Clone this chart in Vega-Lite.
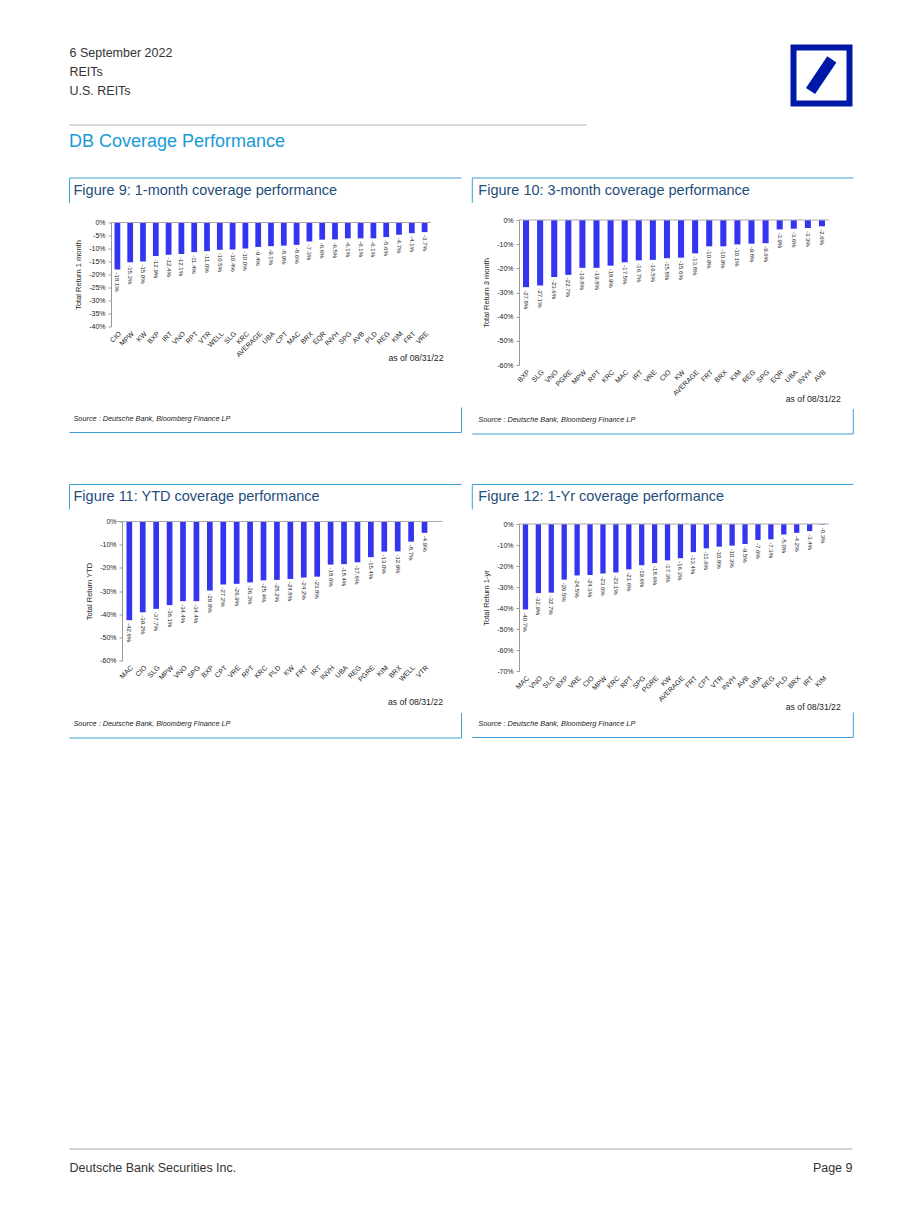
{
  "$schema": "https://vega.github.io/schema/vega-lite/v6.json",
  "background": "white",
  "autosize": {"type": "pad"},
  "padding": {"left": 68, "top": 35, "right": 0, "bottom": 0},
  "config": {
    "view": {"stroke": null},
    "font": "Liberation Sans",
    "axis": {"grid": false, "labelFont": "Liberation Sans", "titleFont": "Liberation Sans", "labelColor": "#222222", "titleColor": "#222222", "titleFontWeight": "normal"},
    "text": {"font": "Liberation Sans"},
    "title": {"font": "Liberation Sans", "fontWeight": "normal"}
  },
  "datasets": {
    "m1": [
      {"t": "CIO", "v": -18.1}, {"t": "MPW", "v": -15.3}, {"t": "KW", "v": -15.0}, {"t": "BXP", "v": -12.9}, {"t": "IRT", "v": -12.4},
      {"t": "VNO", "v": -12.1}, {"t": "RPT", "v": -11.4}, {"t": "VTR", "v": -11.0}, {"t": "WELL", "v": -10.5}, {"t": "SLG", "v": -10.4},
      {"t": "KRC", "v": -10.0}, {"t": "AVERAGE", "v": -9.4}, {"t": "UBA", "v": -9.1}, {"t": "CPT", "v": -8.9}, {"t": "MAC", "v": -8.6},
      {"t": "BRX", "v": -7.3}, {"t": "EQR", "v": -6.6}, {"t": "INVH", "v": -6.5}, {"t": "SPG", "v": -6.1}, {"t": "AVB", "v": -6.1},
      {"t": "PLD", "v": -6.1}, {"t": "REG", "v": -5.6}, {"t": "KIM", "v": -4.7}, {"t": "FRT", "v": -4.1}, {"t": "VRE", "v": -3.7}
    ],
    "m3": [
      {"t": "BXP", "v": -27.8}, {"t": "SLG", "v": -27.1}, {"t": "VNO", "v": -23.6}, {"t": "PGRE", "v": -22.7}, {"t": "MPW", "v": -19.8},
      {"t": "RPT", "v": -19.8}, {"t": "KRC", "v": -18.9}, {"t": "MAC", "v": -17.5}, {"t": "IRT", "v": -16.7}, {"t": "VRE", "v": -16.5},
      {"t": "CIO", "v": -15.8}, {"t": "KW", "v": -15.6}, {"t": "AVERAGE", "v": -13.8}, {"t": "FRT", "v": -10.9}, {"t": "BRX", "v": -10.9},
      {"t": "KIM", "v": -10.1}, {"t": "REG", "v": -9.8}, {"t": "SPG", "v": -9.6}, {"t": "EQR", "v": -3.9}, {"t": "UBA", "v": -3.6},
      {"t": "INVH", "v": -3.3}, {"t": "AVB", "v": -2.6}
    ],
    "ytd": [
      {"t": "MAC", "v": -42.6}, {"t": "CIO", "v": -39.2}, {"t": "SLG", "v": -37.7}, {"t": "MPW", "v": -36.1}, {"t": "VNO", "v": -34.4},
      {"t": "SPG", "v": -34.4}, {"t": "BXP", "v": -29.8}, {"t": "CPT", "v": -27.2}, {"t": "VRE", "v": -26.9}, {"t": "RPT", "v": -26.3},
      {"t": "KRC", "v": -25.4}, {"t": "PLD", "v": -25.2}, {"t": "KW", "v": -24.8}, {"t": "FRT", "v": -24.2}, {"t": "IRT", "v": -23.8},
      {"t": "INVH", "v": -18.6}, {"t": "UBA", "v": -18.4}, {"t": "REG", "v": -17.6}, {"t": "PGRE", "v": -15.4}, {"t": "KIM", "v": -13.0},
      {"t": "BRX", "v": -12.9}, {"t": "WELL", "v": -8.7}, {"t": "VTR", "v": -4.9}
    ],
    "y1": [
      {"t": "MAC", "v": -40.7}, {"t": "VNO", "v": -32.9}, {"t": "SLG", "v": -32.7}, {"t": "BXP", "v": -26.5}, {"t": "VRE", "v": -24.5},
      {"t": "CIO", "v": -24.3}, {"t": "MPW", "v": -23.6}, {"t": "KRC", "v": -23.1}, {"t": "RPT", "v": -21.6}, {"t": "SPG", "v": -19.6},
      {"t": "PGRE", "v": -18.6}, {"t": "KW", "v": -17.3}, {"t": "AVERAGE", "v": -16.3}, {"t": "FRT", "v": -13.4}, {"t": "CPT", "v": -11.6},
      {"t": "VTR", "v": -10.8}, {"t": "INVH", "v": -10.3}, {"t": "AVB", "v": -9.5}, {"t": "UBA", "v": -7.6}, {"t": "REG", "v": -7.3},
      {"t": "PLD", "v": -5.0}, {"t": "BRX", "v": -4.2}, {"t": "IRT", "v": -3.4}, {"t": "KIM", "v": -0.3}
    ]
  },
  "spacing": 409,
  "vconcat": [
    {
      "spacing": 26,
      "vconcat": [
        {
          "width": 741.5,
          "height": 80,
          "data": {"values": [{}]},
          "title": {"text": "DB Coverage Performance", "orient": "bottom", "anchor": "start", "frame": "bounds", "fontSize": 18, "color": "#1a9ad6", "offset": 7.5},
          "layer": [
            {
              "mark": {"type": "text", "text": ["6 September 2022", "REITs", "U.S. REITs"], "align": "left", "baseline": "top", "lineHeight": 19, "fontSize": 12.5, "color": "#333333", "dx": -41.5},
              "encoding": {
                "x": {"datum": 0, "type": "quantitative", "scale": {"domain": [0, 1]}, "axis": null},
                "y": {"datum": 0.975, "type": "quantitative", "scale": {"domain": [0, 1]}, "axis": null}
              }
            },
            {
              "mark": {"type": "rule", "color": "#b4b4b4", "strokeWidth": 1, "xOffset": -41.5},
              "encoding": {
                "x": {"datum": 0, "type": "quantitative", "scale": {"domain": [0, 1]}, "axis": null},
                "x2": {"datum": 0.6413},
                "y": {"datum": 0, "type": "quantitative", "scale": {"domain": [0, 1]}, "axis": null}
              }
            },
            {
              "mark": {"type": "point", "shape": "square", "size": 3136, "filled": false, "color": "#0018a8", "strokeWidth": 6, "opacity": 1},
              "encoding": {
                "x": {"datum": 0.9582, "type": "quantitative", "scale": {"domain": [0, 1]}, "axis": null},
                "y": {"datum": 0.619, "type": "quantitative", "scale": {"domain": [0, 1]}, "axis": null}
              }
            },
            {
              "mark": {"type": "rule", "color": "#0018a8", "strokeWidth": 11},
              "encoding": {
                "x": {"datum": 0.9434, "type": "quantitative", "scale": {"domain": [0, 1]}, "axis": null},
                "x2": {"datum": 0.9721},
                "y": {"datum": 0.425, "type": "quantitative", "scale": {"domain": [0, 1]}, "axis": null},
                "y2": {"datum": 0.821}
              }
            }
          ]
        },
        {
          "spacing": 48.5,
          "vconcat": [
            {
              "spacing": 9,
              "hconcat": [
                {
                  "spacing": 43.5,
                  "vconcat": [
                    {
                      "spacing": 14.5,
                      "vconcat": [
                        {
                          "width": 350.5, "height": 25,
                          "data": {"values": [{}]},
                          "layer": [
                            {"mark": {"type": "rule", "color": "#3d9fd6", "strokeWidth": 1, "xOffset": -41.5},
                             "encoding": {"x": {"datum": 0, "type": "quantitative", "scale": {"domain": [0, 1]}, "axis": null}, "x2": {"datum": 1}, "y": {"datum": 1, "type": "quantitative", "scale": {"domain": [0, 1]}, "axis": null}}},
                            {"mark": {"type": "rule", "color": "#3d9fd6", "strokeWidth": 1, "xOffset": -41.5},
                             "encoding": {"x": {"datum": 0, "type": "quantitative", "scale": {"domain": [0, 1]}, "axis": null}, "y": {"datum": 0, "type": "quantitative", "scale": {"domain": [0, 1]}, "axis": null}, "y2": {"datum": 1}}},
                            {"mark": {"type": "text", "text": "Figure 9: 1-month coverage performance", "align": "left", "baseline": "middle", "dx": -37.5, "fontSize": 14.5, "color": "#1f4e79"},
                             "encoding": {"x": {"datum": 0, "type": "quantitative", "scale": {"domain": [0, 1]}, "axis": null}, "y": {"datum": 0.5, "type": "quantitative", "scale": {"domain": [0, 1]}, "axis": null}}}
                          ]
                        },
                        {
                          "width": 320, "height": 104,
                          "data": {"name": "m1"},
                          "layer": [
                            {"mark": {"type": "bar", "color": "#3535f0"},
                             "encoding": {
                               "x": {"field": "t", "type": "nominal", "sort": null, "scale": {"paddingInner": 0.55, "paddingOuter": 0.275},
                                     "axis": {"title": "as of 08/31/22", "labelAngle": -45, "labelFontSize": 7, "labelPadding": 3, "domain": false, "ticks": false, "labelOverlap": false, "titleFontSize": 8.7, "titleX": 332, "titleY": 31, "titleAlign": "right", "titleBaseline": "middle", "titleAnchor": "end"}},
                               "y": {"field": "v", "type": "quantitative", "scale": {"domain": [-40, 0], "nice": false},
                                     "axis": {"title": "Total Return 1 month", "values": [0, -5, -10, -15, -20, -25, -30, -35, -40], "tickCount": 50, "labelExpr": "datum.value + '%'", "labelOverlap": false, "labelFontSize": 7, "titleFontSize": 7.5, "domainColor": "#999999", "tickColor": "#999999", "tickSize": 3, "labelPadding": 3, "titlePadding": 6}}
                             }},
                            {"mark": {"type": "text", "angle": 90, "align": "left", "baseline": "middle", "dx": 3, "fontSize": 6, "color": "#222222", "text": {"expr": "replace(format(datum.v, '.1f'), '−', '-') + '%'"}},
                             "encoding": {"x": {"field": "t", "type": "nominal", "sort": null}, "y": {"field": "v", "type": "quantitative"}}},
                            {"data": {"values": [{}]}, "mark": {"type": "rule", "color": "#aaaaaa"}, "encoding": {"y": {"datum": 0}}}
                          ]
                        }
                      ]
                    },
                    {
                      "width": 350.5, "height": 25,
                      "data": {"values": [{}]},
                      "layer": [
                        {"mark": {"type": "rule", "color": "#3d9fd6", "strokeWidth": 1, "xOffset": -41.5},
                         "encoding": {"x": {"datum": 0, "type": "quantitative", "scale": {"domain": [0, 1]}, "axis": null}, "x2": {"datum": 1}, "y": {"datum": 0, "type": "quantitative", "scale": {"domain": [0, 1]}, "axis": null}}},
                        {"mark": {"type": "rule", "color": "#3d9fd6", "strokeWidth": 1},
                         "encoding": {"x": {"datum": 1, "type": "quantitative", "scale": {"domain": [0, 1]}, "axis": null}, "y": {"datum": 0, "type": "quantitative", "scale": {"domain": [0, 1]}, "axis": null}, "y2": {"datum": 1}}},
                        {"mark": {"type": "text", "text": "Source : Deutsche Bank, Bloomberg Finance LP", "align": "left", "baseline": "middle", "dx": -37.5, "fontSize": 7.3, "fontStyle": "italic", "color": "#222222"},
                         "encoding": {"x": {"datum": 0, "type": "quantitative", "scale": {"domain": [0, 1]}, "axis": null}, "y": {"datum": 0.56, "type": "quantitative", "scale": {"domain": [0, 1]}, "axis": null}}}
                      ]
                    }
                  ]
                },
                {
                  "spacing": 5,
                  "vconcat": [
                    {
                      "spacing": 12,
                      "vconcat": [
                        {
                          "width": 334.3, "height": 25,
                          "data": {"values": [{}]},
                          "layer": [
                            {"mark": {"type": "rule", "color": "#3d9fd6", "strokeWidth": 1, "xOffset": -46.7},
                             "encoding": {"x": {"datum": 0, "type": "quantitative", "scale": {"domain": [0, 1]}, "axis": null}, "x2": {"datum": 1}, "y": {"datum": 1, "type": "quantitative", "scale": {"domain": [0, 1]}, "axis": null}}},
                            {"mark": {"type": "rule", "color": "#3d9fd6", "strokeWidth": 1, "xOffset": -46.7},
                             "encoding": {"x": {"datum": 0, "type": "quantitative", "scale": {"domain": [0, 1]}, "axis": null}, "y": {"datum": 0, "type": "quantitative", "scale": {"domain": [0, 1]}, "axis": null}, "y2": {"datum": 1}}},
                            {"mark": {"type": "text", "text": "Figure 10: 3-month coverage performance", "align": "left", "baseline": "middle", "dx": -40.7, "fontSize": 14.5, "color": "#1f4e79"},
                             "encoding": {"x": {"datum": 0, "type": "quantitative", "scale": {"domain": [0, 1]}, "axis": null}, "y": {"datum": 0.5, "type": "quantitative", "scale": {"domain": [0, 1]}, "axis": null}}}
                          ]
                        },
                        {
                          "width": 310, "height": 145,
                          "data": {"name": "m3"},
                          "layer": [
                            {"mark": {"type": "bar", "color": "#3535f0"},
                             "encoding": {
                               "x": {"field": "t", "type": "nominal", "sort": null, "scale": {"paddingInner": 0.57, "paddingOuter": 0.285},
                                     "axis": {"title": "as of 08/31/22", "labelAngle": -45, "labelFontSize": 7, "labelPadding": 3, "domain": false, "ticks": false, "labelOverlap": false, "titleFontSize": 8.7, "titleX": 321.3, "titleY": 33, "titleAlign": "right", "titleBaseline": "middle", "titleAnchor": "end"}},
                               "y": {"field": "v", "type": "quantitative", "scale": {"domain": [-60, 0], "nice": false},
                                     "axis": {"title": "Total Return 3 month", "values": [0, -10, -20, -30, -40, -50, -60], "tickCount": 50, "labelExpr": "datum.value + '%'", "labelOverlap": false, "labelFontSize": 7, "titleFontSize": 7.5, "domainColor": "#999999", "tickColor": "#999999", "tickSize": 3, "labelPadding": 3, "titlePadding": 6}}
                             }},
                            {"mark": {"type": "text", "angle": 90, "align": "left", "baseline": "middle", "dx": 3, "fontSize": 6, "color": "#222222", "text": {"expr": "replace(format(datum.v, '.1f'), '−', '-') + '%'"}},
                             "encoding": {"x": {"field": "t", "type": "nominal", "sort": null}, "y": {"field": "v", "type": "quantitative"}}},
                            {"data": {"values": [{}]}, "mark": {"type": "rule", "color": "#aaaaaa"}, "encoding": {"y": {"datum": 0}}}
                          ]
                        }
                      ]
                    },
                    {
                      "width": 334.3, "height": 25,
                      "data": {"values": [{}]},
                      "layer": [
                        {"mark": {"type": "rule", "color": "#3d9fd6", "strokeWidth": 1, "xOffset": -46.7},
                         "encoding": {"x": {"datum": 0, "type": "quantitative", "scale": {"domain": [0, 1]}, "axis": null}, "x2": {"datum": 1}, "y": {"datum": 0, "type": "quantitative", "scale": {"domain": [0, 1]}, "axis": null}}},
                        {"mark": {"type": "rule", "color": "#3d9fd6", "strokeWidth": 1},
                         "encoding": {"x": {"datum": 1, "type": "quantitative", "scale": {"domain": [0, 1]}, "axis": null}, "y": {"datum": 0, "type": "quantitative", "scale": {"domain": [0, 1]}, "axis": null}, "y2": {"datum": 1}}},
                        {"mark": {"type": "text", "text": "Source : Deutsche Bank, Bloomberg Finance LP", "align": "left", "baseline": "middle", "dx": -40.7, "fontSize": 7.3, "fontStyle": "italic", "color": "#222222"},
                         "encoding": {"x": {"datum": 0, "type": "quantitative", "scale": {"domain": [0, 1]}, "axis": null}, "y": {"datum": 0.56, "type": "quantitative", "scale": {"domain": [0, 1]}, "axis": null}}}
                      ]
                    }
                  ]
                }
              ]
            },
            {
              "spacing": 9,
              "hconcat": [
                {
                  "spacing": 5.5,
                  "vconcat": [
                    {
                      "spacing": 7,
                      "vconcat": [
                        {
                          "width": 350.5, "height": 25,
                          "data": {"values": [{}]},
                          "layer": [
                            {"mark": {"type": "rule", "color": "#3d9fd6", "strokeWidth": 1, "xOffset": -41.5},
                             "encoding": {"x": {"datum": 0, "type": "quantitative", "scale": {"domain": [0, 1]}, "axis": null}, "x2": {"datum": 1}, "y": {"datum": 1, "type": "quantitative", "scale": {"domain": [0, 1]}, "axis": null}}},
                            {"mark": {"type": "rule", "color": "#3d9fd6", "strokeWidth": 1, "xOffset": -41.5},
                             "encoding": {"x": {"datum": 0, "type": "quantitative", "scale": {"domain": [0, 1]}, "axis": null}, "y": {"datum": 0, "type": "quantitative", "scale": {"domain": [0, 1]}, "axis": null}, "y2": {"datum": 1}}},
                            {"mark": {"type": "text", "text": "Figure 11: YTD coverage performance", "align": "left", "baseline": "middle", "dx": -37.5, "fontSize": 14.5, "color": "#1f4e79"},
                             "encoding": {"x": {"datum": 0, "type": "quantitative", "scale": {"domain": [0, 1]}, "axis": null}, "y": {"datum": 0.5, "type": "quantitative", "scale": {"domain": [0, 1]}, "axis": null}}}
                          ]
                        },
                        {
                          "width": 320.5, "height": 139,
                          "data": {"name": "ytd"},
                          "layer": [
                            {"mark": {"type": "bar", "color": "#3535f0"},
                             "encoding": {
                               "x": {"field": "t", "type": "nominal", "sort": null, "scale": {"paddingInner": 0.575, "paddingOuter": 0.73, "align": 0.79},
                                     "axis": {"title": "as of 08/31/22", "labelAngle": -45, "labelFontSize": 7, "labelPadding": 3, "domain": false, "ticks": false, "labelOverlap": false, "titleFontSize": 8.7, "titleX": 331.5, "titleY": 40.5, "titleAlign": "right", "titleBaseline": "middle", "titleAnchor": "end"}},
                               "y": {"field": "v", "type": "quantitative", "scale": {"domain": [-60, 0], "nice": false},
                                     "axis": {"title": "Total Return YTD", "offset": -11, "values": [0, -10, -20, -30, -40, -50, -60], "tickCount": 50, "labelExpr": "datum.value + '%'", "labelOverlap": false, "labelFontSize": 7, "titleFontSize": 7.5, "domainColor": "#999999", "tickColor": "#999999", "tickSize": 3, "labelPadding": 3, "titlePadding": 6}}
                             }},
                            {"mark": {"type": "text", "angle": 90, "align": "left", "baseline": "middle", "dx": 3, "fontSize": 6, "color": "#222222", "text": {"expr": "replace(format(datum.v, '.1f'), '−', '-') + '%'"}},
                             "encoding": {"x": {"field": "t", "type": "nominal", "sort": null}, "y": {"field": "v", "type": "quantitative"}}},
                            {"data": {"values": [{}]}, "mark": {"type": "rule", "color": "#aaaaaa", "xOffset": 11}, "encoding": {"y": {"datum": 0}}}
                          ]
                        }
                      ]
                    },
                    {
                      "width": 350.5, "height": 25,
                      "data": {"values": [{}]},
                      "layer": [
                        {"mark": {"type": "rule", "color": "#3d9fd6", "strokeWidth": 1, "xOffset": -41.5},
                         "encoding": {"x": {"datum": 0, "type": "quantitative", "scale": {"domain": [0, 1]}, "axis": null}, "x2": {"datum": 1}, "y": {"datum": 0, "type": "quantitative", "scale": {"domain": [0, 1]}, "axis": null}}},
                        {"mark": {"type": "rule", "color": "#3d9fd6", "strokeWidth": 1},
                         "encoding": {"x": {"datum": 1, "type": "quantitative", "scale": {"domain": [0, 1]}, "axis": null}, "y": {"datum": 0, "type": "quantitative", "scale": {"domain": [0, 1]}, "axis": null}, "y2": {"datum": 1}}},
                        {"mark": {"type": "text", "text": "Source : Deutsche Bank, Bloomberg Finance LP", "align": "left", "baseline": "middle", "dx": -37.5, "fontSize": 7.3, "fontStyle": "italic", "color": "#222222"},
                         "encoding": {"x": {"datum": 0, "type": "quantitative", "scale": {"domain": [0, 1]}, "axis": null}, "y": {"datum": 0.56, "type": "quantitative", "scale": {"domain": [0, 1]}, "axis": null}}}
                      ]
                    }
                  ]
                },
                {
                  "spacing": 0,
                  "vconcat": [
                    {
                      "spacing": 9.5,
                      "vconcat": [
                        {
                          "width": 334.3, "height": 25,
                          "data": {"values": [{}]},
                          "layer": [
                            {"mark": {"type": "rule", "color": "#3d9fd6", "strokeWidth": 1, "xOffset": -46.7},
                             "encoding": {"x": {"datum": 0, "type": "quantitative", "scale": {"domain": [0, 1]}, "axis": null}, "x2": {"datum": 1}, "y": {"datum": 1, "type": "quantitative", "scale": {"domain": [0, 1]}, "axis": null}}},
                            {"mark": {"type": "rule", "color": "#3d9fd6", "strokeWidth": 1, "xOffset": -46.7},
                             "encoding": {"x": {"datum": 0, "type": "quantitative", "scale": {"domain": [0, 1]}, "axis": null}, "y": {"datum": 0, "type": "quantitative", "scale": {"domain": [0, 1]}, "axis": null}, "y2": {"datum": 1}}},
                            {"mark": {"type": "text", "text": "Figure 12: 1-Yr coverage performance", "align": "left", "baseline": "middle", "dx": -40.7, "fontSize": 14.5, "color": "#1f4e79"},
                             "encoding": {"x": {"datum": 0, "type": "quantitative", "scale": {"domain": [0, 1]}, "axis": null}, "y": {"datum": 0.5, "type": "quantitative", "scale": {"domain": [0, 1]}, "axis": null}}}
                          ]
                        },
                        {
                          "width": 310, "height": 147,
                          "data": {"name": "y1"},
                          "layer": [
                            {"mark": {"type": "bar", "color": "#3535f0"},
                             "encoding": {
                               "x": {"field": "t", "type": "nominal", "sort": null, "scale": {"paddingInner": 0.59, "paddingOuter": 0.295},
                                     "axis": {"title": "as of 08/31/22", "labelAngle": -45, "labelFontSize": 7, "labelPadding": 3, "domain": false, "ticks": false, "labelOverlap": false, "titleFontSize": 8.7, "titleX": 321.3, "titleY": 35.5, "titleAlign": "right", "titleBaseline": "middle", "titleAnchor": "end"}},
                               "y": {"field": "v", "type": "quantitative", "scale": {"domain": [-70, 0], "nice": false},
                                     "axis": {"title": "Total Return 1-yr", "values": [0, -10, -20, -30, -40, -50, -60, -70], "tickCount": 50, "labelExpr": "datum.value + '%'", "labelOverlap": false, "labelFontSize": 7, "titleFontSize": 7.5, "domainColor": "#999999", "tickColor": "#999999", "tickSize": 3, "labelPadding": 3, "titlePadding": 6}}
                             }},
                            {"mark": {"type": "text", "angle": 90, "align": "left", "baseline": "middle", "dx": 3, "fontSize": 6, "color": "#222222", "text": {"expr": "replace(format(datum.v, '.1f'), '−', '-') + '%'"}},
                             "encoding": {"x": {"field": "t", "type": "nominal", "sort": null}, "y": {"field": "v", "type": "quantitative"}}},
                            {"data": {"values": [{}]}, "mark": {"type": "rule", "color": "#aaaaaa"}, "encoding": {"y": {"datum": 0}}}
                          ]
                        }
                      ]
                    },
                    {
                      "width": 334.3, "height": 25,
                      "data": {"values": [{}]},
                      "layer": [
                        {"mark": {"type": "rule", "color": "#3d9fd6", "strokeWidth": 1, "xOffset": -46.7},
                         "encoding": {"x": {"datum": 0, "type": "quantitative", "scale": {"domain": [0, 1]}, "axis": null}, "x2": {"datum": 1}, "y": {"datum": 0, "type": "quantitative", "scale": {"domain": [0, 1]}, "axis": null}}},
                        {"mark": {"type": "rule", "color": "#3d9fd6", "strokeWidth": 1},
                         "encoding": {"x": {"datum": 1, "type": "quantitative", "scale": {"domain": [0, 1]}, "axis": null}, "y": {"datum": 0, "type": "quantitative", "scale": {"domain": [0, 1]}, "axis": null}, "y2": {"datum": 1}}},
                        {"mark": {"type": "text", "text": "Source : Deutsche Bank, Bloomberg Finance LP", "align": "left", "baseline": "middle", "dx": -40.7, "fontSize": 7.3, "fontStyle": "italic", "color": "#222222"},
                         "encoding": {"x": {"datum": 0, "type": "quantitative", "scale": {"domain": [0, 1]}, "axis": null}, "y": {"datum": 0.56, "type": "quantitative", "scale": {"domain": [0, 1]}, "axis": null}}}
                      ]
                    }
                  ]
                }
              ]
            }
          ]
        }
      ]
    },
    {
      "width": 741.5,
      "height": 30,
      "data": {"values": [{}]},
      "layer": [
        {"mark": {"type": "rule", "color": "#c4c4c4", "strokeWidth": 1.5, "xOffset": -41.5},
         "encoding": {"x": {"datum": 0, "type": "quantitative", "scale": {"domain": [0, 1]}, "axis": null}, "x2": {"datum": 1}, "y": {"datum": 1, "type": "quantitative", "scale": {"domain": [0, 1]}, "axis": null}}},
        {"mark": {"type": "text", "text": "Deutsche Bank Securities Inc.", "align": "left", "baseline": "middle", "fontSize": 12.5, "color": "#333333", "dx": -41.5},
         "encoding": {"x": {"datum": 0, "type": "quantitative", "scale": {"domain": [0, 1]}, "axis": null}, "y": {"datum": 0.367, "type": "quantitative", "scale": {"domain": [0, 1]}, "axis": null}}},
        {"mark": {"type": "text", "text": "Page 9", "align": "right", "baseline": "middle", "fontSize": 12.5, "color": "#333333"},
         "encoding": {"x": {"datum": 1, "type": "quantitative", "scale": {"domain": [0, 1]}, "axis": null}, "y": {"datum": 0.367, "type": "quantitative", "scale": {"domain": [0, 1]}, "axis": null}}}
      ]
    }
  ]
}
